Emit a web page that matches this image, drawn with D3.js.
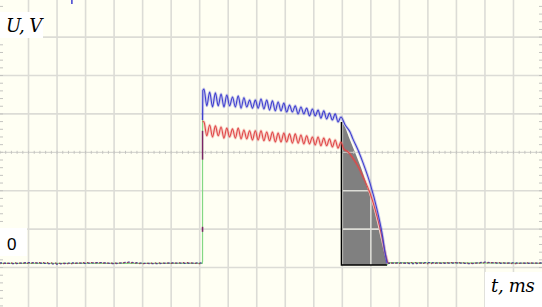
<!DOCTYPE html>
<html>
<head>
<meta charset="utf-8">
<script src="https://cdn.jsdelivr.net/npm/d3@7/dist/d3.min.js"></script>
<style>
  body { margin: 0; background: #fffff3; }
  svg { display: block; }
</style>
</head>
<body>
<div id="chart"></div>
<script>
// grid divisions: time in ms, voltage in V
var gridT = [1, 2, 3, 4, 5, 6, 7, 8, 9, 10, 11, 12, 13, 14, 15, 16, 17, 18];
var gridU = [-0.11, 0.89, 1.89, 3.89, 4.89, 5.89];
var centerU = 2.89;
var triggerT = 2.52;

// baseline before the pulse and after it
var baseT = [0, 0.5, 1.0, 1.5, 2.0, 2.5, 3.0, 3.5, 4.0, 4.5, 5.0, 5.5, 6.0, 6.5, 7.0, 7.09];
var baseBlue = [0.01, -0.01, 0.02, 0.0, -0.02, 0.01, 0.0, 0.02, -0.01, 0.03, 0.0, -0.01, 0.01, 0.0, 0.01, 0.0];
var baseRed = [-0.01, 0.01, 0.0, 0.02, 0.0, -0.01, 0.02, 0.01, 0.0, 0.02, -0.01, 0.01, 0.0, 0.02, -0.01, 0.0];
var tailT = [13.6, 14.0, 14.5, 15.0, 15.5, 16.0, 16.5, 17.0, 17.5, 18.0, 18.5, 19.0];
var tailBlue = [0.0, 0.01, -0.01, 0.02, 0.0, 0.01, -0.01, 0.03, 0.0, 0.01, 0.0, 0.01];
var tailRed = [0.01, 0.0, 0.02, -0.01, 0.01, 0.02, 0.0, 0.01, 0.02, -0.01, 0.01, 0.0];

// green channel: step edge
var greenT = [0, 7.09, 7.10, 7.10];
var greenU = [0, 0, 0.05, 3.73];
var greenTailT = [13.57, 13.63, 19.0];
var greenTailU = [-0.04, 0.02, 0.0];
var stepMarks = [[2.70, 3.45], [0.82, 0.95]];

// oscillating plateau, peaks and troughs
var oscT = [7.15, 7.25, 7.35, 7.45, 7.55, 7.65, 7.75, 7.85, 7.95, 8.05,
            8.15, 8.25, 8.35, 8.45, 8.55, 8.65, 8.75, 8.85, 8.95, 9.05,
            9.15, 9.25, 9.35, 9.45, 9.55, 9.65, 9.75, 9.85, 9.95, 10.05,
            10.15, 10.25, 10.35, 10.45, 10.55, 10.65, 10.75, 10.85, 10.95, 11.05,
            11.15, 11.25, 11.35, 11.45, 11.55, 11.65, 11.75, 11.85, 11.95];
var blueOscU = [4.54, 4.10, 4.46, 4.07, 4.44, 4.10, 4.41, 4.07, 4.38, 4.10,
                4.33, 4.07, 4.36, 4.04, 4.31, 4.07, 4.25, 4.04, 4.25, 4.04,
                4.28, 4.02, 4.25, 3.99, 4.23, 3.97, 4.20, 3.97, 4.17, 3.94,
                4.12, 3.94, 4.10, 3.89, 4.07, 3.89, 4.04, 3.84, 4.02, 3.84,
                3.99, 3.78, 3.97, 3.76, 3.91, 3.73, 3.89, 3.68, 3.81];
var redOscU = [3.68, 3.32, 3.60, 3.29, 3.58, 3.32, 3.55, 3.26, 3.52, 3.29,
               3.50, 3.26, 3.52, 3.24, 3.47, 3.24, 3.45, 3.21, 3.45, 3.21,
               3.45, 3.19, 3.42, 3.19, 3.42, 3.16, 3.39, 3.16, 3.39, 3.16,
               3.37, 3.13, 3.37, 3.13, 3.34, 3.11, 3.32, 3.11, 3.29, 3.08,
               3.29, 3.06, 3.26, 3.06, 3.24, 3.03, 3.21, 3.00, 3.16];

var blueRiseT = [7.10, 7.11];
var blueRiseU = [3.73, 4.50];
var redRiseT = [7.10];
var redRiseU = [3.70];

// falling edge
var blueFallT = [12.10, 12.27, 12.37, 12.55, 12.73, 12.97, 13.22, 13.39, 13.50, 13.57];
var blueFallU = [3.60, 3.42, 3.24, 2.95, 2.61, 2.09, 1.39, 0.79, 0.27, 0.0];
var redFallT = [12.05, 12.20, 12.37, 12.55, 12.73, 12.97, 13.22, 13.39, 13.50, 13.60];
var redFallU = [2.98, 2.90, 2.74, 2.53, 2.25, 1.83, 1.21, 0.69, 0.27, 0.0];

// shaded area under the falling edge
var fillT = [11.97, 12.09, 12.27, 12.44, 12.62, 12.80, 12.97, 13.15, 13.32, 13.46, 13.57];
var fillU = [3.68, 3.55, 3.21, 2.90, 2.56, 2.17, 1.73, 1.28, 0.74, 0.29, -0.04];
var fillFloor = -0.045;

var width = 542,
    height = 307;

var x = d3.scaleLinear().domain([0, 19]).range([0, width]);
var y = d3.scaleLinear().domain([0, 1]).range([263.3, 224.9]);

function zip(ts, us) {
    return ts.map(function (t, i) { return [t, us[i]]; });
}

var svg = d3.select("#chart")
    .append("svg")
    .attr("width", width)
    .attr("height", height);

svg.append("rect")
    .attr("width", width)
    .attr("height", height)
    .attr("fill", "#fffff3");

// gray area
var area = d3.area()
    .x(function (d) { return x(d[0]); })
    .y0(y(fillFloor))
    .y1(function (d) { return y(d[1]); })
    .curve(d3.curveMonotoneX);

svg.append("path")
    .datum(zip(fillT, fillU))
    .attr("d", area)
    .attr("fill", "#808080");

// grid
svg.selectAll(".vgrid")
    .data(gridT)
    .enter().append("line")
    .attr("class", "vgrid")
    .attr("x1", function (d) { return x(d); })
    .attr("x2", function (d) { return x(d); })
    .attr("y1", 0)
    .attr("y2", height)
    .attr("stroke", "#dcdcd6")
    .attr("stroke-width", 1.6);

svg.selectAll(".hgrid")
    .data(gridU)
    .enter().append("line")
    .attr("class", "hgrid")
    .attr("x1", 0)
    .attr("x2", width)
    .attr("y1", function (d) { return y(d); })
    .attr("y2", function (d) { return y(d); })
    .attr("stroke", "#dcdcd6")
    .attr("stroke-width", 1.6);

svg.append("line")
    .attr("x1", 0)
    .attr("x2", width)
    .attr("y1", y(centerU))
    .attr("y2", y(centerU))
    .attr("stroke", "#cfcfca")
    .attr("stroke-width", 1);

svg.selectAll(".ctick")
    .data(d3.range(0, 19.01, 0.2))
    .enter().append("line")
    .attr("class", "ctick")
    .attr("x1", function (d) { return x(d); })
    .attr("x2", function (d) { return x(d); })
    .attr("y1", y(centerU) - 1.5)
    .attr("y2", y(centerU) + 1.5)
    .attr("stroke", "#c4c4c0")
    .attr("stroke-width", 1);

var edgeTicks = d3.range(-1.11, 7, 0.2);
[[0, 3], [width - 3, width]].forEach(function (e) {
    svg.selectAll(null)
        .data(edgeTicks)
        .enter().append("line")
        .attr("x1", e[0])
        .attr("x2", e[1])
        .attr("y1", function (d) { return y(d); })
        .attr("y2", function (d) { return y(d); })
        .attr("stroke", "#c4c4c0")
        .attr("stroke-width", 1);
});

// black outline of the shaded area
svg.append("path")
    .attr("d", "M" + x(fillT[0]) + "," + y(fillU[0]) +
        "V" + y(fillFloor) + "H" + x(fillT[fillT.length - 1]))
    .attr("fill", "none")
    .attr("stroke", "#000")
    .attr("stroke-width", 1.5);

var line = d3.line()
    .x(function (d) { return x(d[0]); })
    .y(function (d) { return y(d[1]); });

var smooth = d3.line()
    .x(function (d) { return x(d[0]); })
    .y(function (d) { return y(d[1]); })
    .curve(d3.curveMonotoneX);

// green channel
svg.append("path")
    .datum(zip(greenT, greenU))
    .attr("d", line)
    .attr("fill", "none")
    .attr("stroke", "#84d884")
    .attr("stroke-width", 1.2);

svg.append("path")
    .datum(zip(greenTailT, greenTailU))
    .attr("d", line)
    .attr("fill", "none")
    .attr("stroke", "#84d884")
    .attr("stroke-width", 1.2);

// baselines, dotted look
[[baseT, baseBlue, "#4b3f9a", "2 2", 0], [baseT, baseRed, "#a0405a", "1.5 2.5", 1],
 [tailT, tailBlue, "#4b3f9a", "2 2", 0], [tailT, tailRed, "#a0405a", "1.5 2.5", 1]].forEach(function (b) {
    svg.append("path")
        .datum(zip(b[0], b[1]))
        .attr("d", line)
        .attr("fill", "none")
        .attr("stroke", b[2])
        .attr("stroke-width", 1.3)
        .attr("stroke-dasharray", b[3])
        .attr("stroke-dashoffset", b[4]);
});

svg.selectAll(".smark")
    .data(stepMarks)
    .enter().append("line")
    .attr("class", "smark")
    .attr("x1", x(7.10))
    .attr("x2", x(7.10))
    .attr("y1", function (d) { return y(d[0]); })
    .attr("y2", function (d) { return y(d[1]); })
    .attr("stroke", "#7b2466")
    .attr("stroke-width", 1.5);

// red and blue traces, soft halo under a thin line
var traces = [
    {pts: zip(redRiseT.concat(oscT, redFallT), redRiseU.concat(redOscU, redFallU)), color: "#e04848"},
    {pts: zip(blueRiseT.concat(oscT, blueFallT), blueRiseU.concat(blueOscU, blueFallU)), color: "#3f3fcf"}
];

traces.forEach(function (tr) {
    svg.append("path")
        .datum(tr.pts)
        .attr("d", smooth)
        .attr("fill", "none")
        .attr("stroke", tr.color)
        .attr("stroke-opacity", 0.25)
        .attr("stroke-width", 3);
    svg.append("path")
        .datum(tr.pts)
        .attr("d", smooth)
        .attr("fill", "none")
        .attr("stroke", tr.color)
        .attr("stroke-width", 1.1);
});

// trigger marker
svg.append("line")
    .attr("x1", x(triggerT))
    .attr("x2", x(triggerT))
    .attr("y1", 0)
    .attr("y2", 4)
    .attr("stroke", "#3f3fcf")
    .attr("stroke-width", 1.5);

// labels with white boxes
var labels = [
    {text: "U, V", box: [0, 12, 43, 26], tx: 6, ty: 32, italic: true, size: 18, spacing: -0.6},
    {text: "0", box: [0, 228, 27, 28], tx: 7, ty: 250, italic: false, size: 17, spacing: 0},
    {text: "t, ms", box: [485, 272, 57, 35], tx: 491, ty: 292, italic: true, size: 18, spacing: -0.3}
];

labels.forEach(function (l) {
    svg.append("rect")
        .attr("x", l.box[0])
        .attr("y", l.box[1])
        .attr("width", l.box[2])
        .attr("height", l.box[3])
        .attr("fill", "#ffffff");
    svg.append("text")
        .attr("x", l.tx)
        .attr("y", l.ty)
        .text(l.text)
        .style("font-family", l.italic ? "'DejaVu Serif', serif" : "'Liberation Sans', sans-serif")
        .style("font-style", l.italic ? "italic" : "normal")
        .style("font-size", l.size + "px")
        .style("letter-spacing", l.spacing + "px")
        .attr("fill", "#000");
});
</script>
</body>
</html>
